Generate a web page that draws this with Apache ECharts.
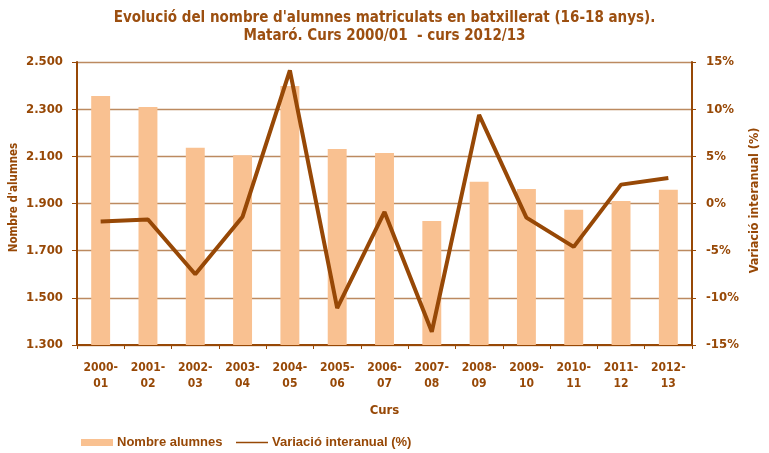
<!DOCTYPE html>
<html>
<head>
<meta charset="utf-8">
<script src="https://cdn.jsdelivr.net/npm/echarts@6/dist/echarts.min.js"></script>
<style>
  html, body { margin: 0; padding: 0; background: #fff; }
  #chart { width: 769px; height: 453px; }
</style>
</head>
<body>
<div id="chart"></div>
<script>
// dades
var cursos = ['2000-\n01', '2001-\n02', '2002-\n03', '2003-\n04', '2004-\n05', '2005-\n06', '2006-\n07',
              '2007-\n08', '2008-\n09', '2009-\n10', '2010-\n11', '2011-\n12', '2012-\n13'];
var alumnes = [2356, 2309, 2136, 2105, 2398, 2131, 2114, 1826, 1992, 1962, 1873, 1911, 1958];
var variacio = [-1.9, -1.7, -7.5, -1.4, 14.1, -11.1, -0.9, -13.6, 9.4, -1.5, -4.6, 2.0, 2.7];

var brown = '#974806';
var peach = '#F9C191';
var font = '"Liberation Sans Narrow", "DejaVu Sans Condensed", "Liberation Sans", Arial, sans-serif';
var fontWide = '"Liberation Sans", Arial, sans-serif';

var chart = echarts.init(document.getElementById('chart'));

function milers(v) {
  // 2500 -> 2.500
  var s = String(v);
  return s.length > 3 ? s.slice(0, s.length - 3) + '.' + s.slice(s.length - 3) : s;
}

var legendText = { fontFamily: fontWide, fontSize: 13, fontWeight: 'bold', color: brown, padding: [0, 0, 0, -1] };

var option = {
  animation: false,
  textStyle: { fontFamily: font },
  title: {
    text: "Evolució del nombre d'alumnes matriculats en batxillerat (16-18 anys).\nMataró. Curs 2000/01  - curs 2012/13",
    left: 'center',
    top: 4,
    textStyle: { fontFamily: font, fontSize: 15, fontWeight: 'bold', color: '#9C4F10', lineHeight: 18 }
  },
  legend: [
    {
      left: 76,
      top: 431,
      padding: 5,
      textStyle: legendText,
      data: [{ name: 'Nombre alumnes', icon: 'rect', itemStyle: { color: peach } }],
      itemWidth: 32,
      itemHeight: 7
    },
    {
      left: 231,
      top: 431,
      padding: 5,
      textStyle: legendText,
      data: [{ name: 'Variació interanual (%)', icon: 'rect', itemStyle: { color: brown } }],
      itemWidth: 32,
      itemHeight: 1.5
    }
  ],
  grid: { left: 77, right: 77, top: 62, bottom: 108, outerBoundsMode: 'none' },
  xAxis: {
    type: 'category',
    data: cursos,
    name: 'Curs',
    nameLocation: 'middle',
    nameGap: 59,
    nameMoveOverlap: false,
    nameTextStyle: { fontFamily: font, fontSize: 13, fontWeight: 'bold', color: brown },
    axisLine: { onZero: false, lineStyle: { color: brown, width: 2 } },
    axisTick: { show: true, length: 4, lineStyle: { color: brown, width: 1 } },
    axisLabel: { margin: 15, fontFamily: font, fontSize: 12, fontWeight: 'bold', color: brown, lineHeight: 16 }
  },
  yAxis: [
    {
      type: 'value',
      min: 1300,
      max: 2500,
      interval: 200,
      name: "Nombre d'alumnes",
      nameLocation: 'middle',
      nameGap: 57,
      nameMoveOverlap: false,
      nameRotate: 90,
      nameTextStyle: { fontFamily: font, fontSize: 11.5, fontWeight: 'bold', color: brown, padding: [0, 0, 0, 12] },
      axisLine: { show: true, lineStyle: { color: brown, width: 2 } },
      axisTick: { show: true, length: 5, lineStyle: { color: brown } },
      axisLabel: { margin: 14, fontFamily: font, fontSize: 13, fontWeight: 'bold', color: brown, formatter: milers },
      splitLine: { show: true, lineStyle: { color: '#BC8A60', width: 1.3 } }
    },
    {
      type: 'value',
      min: -15,
      max: 15,
      interval: 5,
      name: 'Variació interanual (%)',
      nameLocation: 'middle',
      nameGap: 56,
      nameMoveOverlap: false,
      nameRotate: 90,
      nameTextStyle: { fontFamily: font, fontSize: 12.5, fontWeight: 'bold', color: brown, padding: [0, 0, 0, 6] },
      axisLine: { show: true, lineStyle: { color: brown, width: 2 } },
      axisTick: { show: true, length: 4, lineStyle: { color: brown } },
      axisLabel: { margin: 14, fontFamily: font, fontSize: 13, fontWeight: 'bold', color: brown, formatter: '{value}%' },
      splitLine: { show: false }
    }
  ],
  series: [
    {
      name: 'Nombre alumnes',
      type: 'bar',
      yAxisIndex: 0,
      barWidth: '40%',
      itemStyle: { color: peach },
      data: alumnes
    },
    {
      name: 'Variació interanual (%)',
      type: 'line',
      yAxisIndex: 1,
      symbol: 'none',
      lineStyle: { color: brown, width: 4 },
      itemStyle: { color: brown },
      data: variacio
    }
  ]
};

chart.setOption(option);
</script>
</body>
</html>
